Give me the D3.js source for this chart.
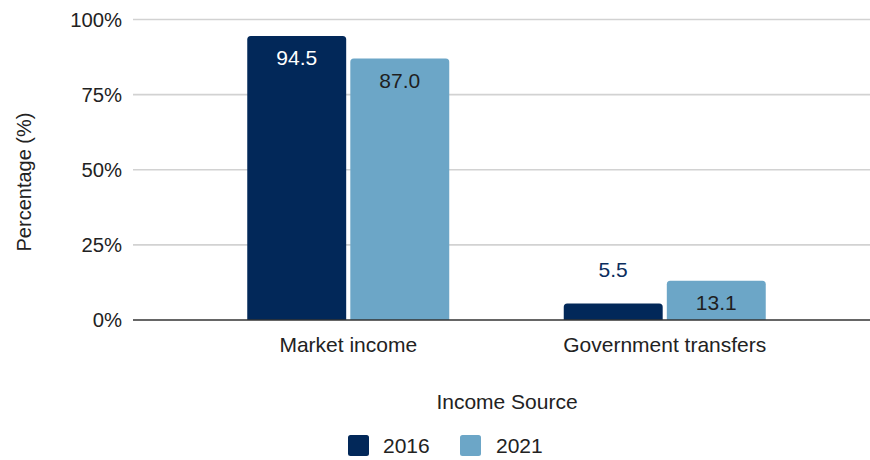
<!DOCTYPE html>
<html>
<head>
<meta charset="utf-8">
<script src="https://cdn.jsdelivr.net/npm/d3@7"></script>
<style>
  html, body { margin: 0; padding: 0; background: #fff; }
  svg text { font-family: "Liberation Sans", Arial, sans-serif; }
</style>
</head>
<body>
<svg id="chart" width="870" height="460"></svg>
<script>
// Share of income by source, 2016 vs 2021
const categories = ["Market income", "Government transfers"];
const seriesNames = ["2016", "2021"];
const values2016 = [94.5, 5.5];
const values2021 = [87.0, 13.1];
const yTicks = [0, 25, 50, 75, 100];
const colors = ["#022859", "#6ca6c7"];
const labelColors = ["#ffffff", "#1f1f1f"];
const outsideLabelColor = "#0b2d5e";

const series = [values2016, values2021];

const svg = d3.select("#chart");
const gridLeft = 133, gridRight = 870;
const y = d3.scaleLinear().domain([0, 100]).range([320, 19.5]);
const x0 = d3.scaleBand().domain(categories).range([190, 823]).paddingInner(0).paddingOuter(0);
const x1 = d3.scaleBand().domain(seriesNames).range([0, 202]).paddingInner(0.04);
const groupOffset = (x0.bandwidth() - 202) / 2;

// horizontal gridlines
svg.append("g").selectAll("line")
  .data(yTicks.filter(d => d !== 0))
  .join("line")
  .attr("x1", gridLeft).attr("x2", gridRight)
  .attr("y1", d => y(d)).attr("y2", d => y(d))
  .attr("stroke", "#d2d2d2").attr("stroke-width", 1.6);

// y tick labels
svg.append("g").selectAll("text")
  .data(yTicks)
  .join("text")
  .attr("x", 122).attr("y", d => y(d))
  .attr("dy", "0.35em")
  .attr("text-anchor", "end")
  .attr("font-size", 20.3)
  .attr("fill", "#222")
  .text(d => d + "%");

// y axis title
svg.append("text")
  .attr("transform", "translate(24,182) rotate(-90)")
  .attr("dy", "0.35em")
  .attr("text-anchor", "middle")
  .attr("font-size", 20)
  .attr("fill", "#222")
  .text("Percentage (%)");

// rounded-top bar path
function barPath(x, w, yTop, yBase, r) {
  const h = yBase - yTop;
  const rr = Math.min(r, h / 2, w / 2);
  return `M${x},${yBase}V${yTop + rr}Q${x},${yTop} ${x + rr},${yTop}H${x + w - rr}Q${x + w},${yTop} ${x + w},${yTop + rr}V${yBase}Z`;
}

const bars = [];
categories.forEach((c, i) => {
  seriesNames.forEach((s, j) => {
    bars.push({ cat: c, ser: s, j, value: series[j][i] });
  });
});

const barG = svg.append("g");
barG.selectAll("path")
  .data(bars)
  .join("path")
  .attr("d", d => barPath(x0(d.cat) + groupOffset + x1(d.ser), x1.bandwidth(), y(d.value), y(0), 3.5))
  .attr("fill", d => colors[d.j]);

// value labels: inside the top of tall bars, above short ones
barG.selectAll("text")
  .data(bars)
  .join("text")
  .each(function(d) {
    const inside = y(0) - y(d.value) > 30;
    d3.select(this)
      .attr("x", x0(d.cat) + groupOffset + x1(d.ser) + x1.bandwidth() / 2)
      .attr("y", inside ? y(d.value) + 22 : y(d.value) - 34)
      .attr("fill", inside ? labelColors[d.j] : outsideLabelColor);
  })
  .attr("dy", "0.35em")
  .attr("text-anchor", "middle")
  .attr("font-size", 21)
  .text(d => d.value.toFixed(1));

// baseline
svg.append("line")
  .attr("x1", gridLeft).attr("x2", gridRight)
  .attr("y1", y(0)).attr("y2", y(0))
  .attr("stroke", "#333").attr("stroke-width", 1.3);

// category labels
svg.append("g").selectAll("text")
  .data(categories)
  .join("text")
  .attr("x", d => x0(d) + x0.bandwidth() / 2)
  .attr("y", 345)
  .attr("dy", "0.35em")
  .attr("text-anchor", "middle")
  .attr("font-size", 21)
  .attr("fill", "#222")
  .text(d => d);

// x axis title
svg.append("text")
  .attr("x", 507).attr("y", 402)
  .attr("dy", "0.35em")
  .attr("text-anchor", "middle")
  .attr("font-size", 21)
  .attr("fill", "#222")
  .text("Income Source");

// legend
const legendItems = [
  { name: seriesNames[0], color: colors[0], sx: 348, tx: 383 },
  { name: seriesNames[1], color: colors[1], sx: 460, tx: 496 }
];
const lg = svg.append("g");
lg.selectAll("rect")
  .data(legendItems)
  .join("rect")
  .attr("x", d => d.sx).attr("y", 435)
  .attr("width", 21).attr("height", 21)
  .attr("rx", 2.5)
  .attr("fill", d => d.color);
lg.selectAll("text")
  .data(legendItems)
  .join("text")
  .attr("x", d => d.tx).attr("y", 446)
  .attr("dy", "0.35em")
  .attr("font-size", 21)
  .attr("fill", "#222")
  .text(d => d.name);
</script>
</body>
</html>
